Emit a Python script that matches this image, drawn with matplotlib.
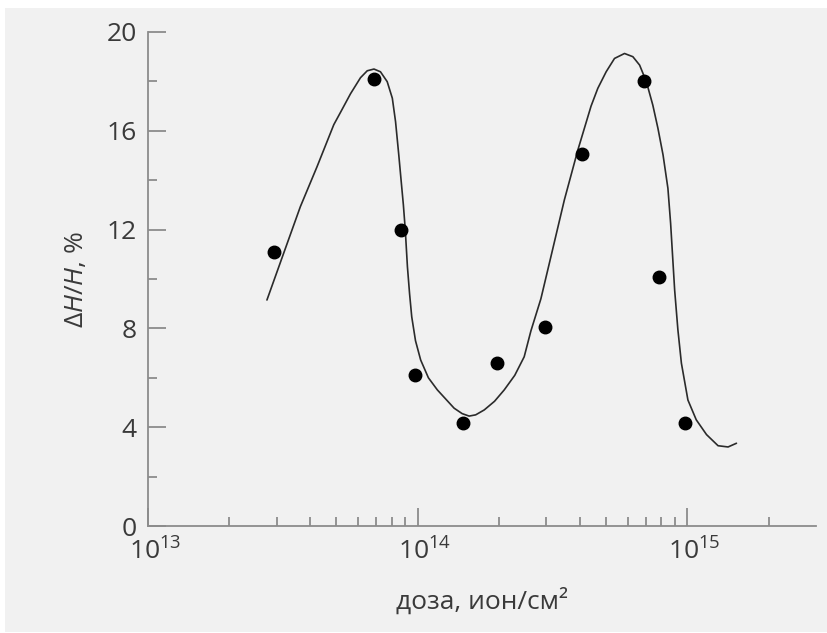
import numpy as np
import matplotlib.pyplot as plt
import matplotlib.transforms as mtransforms
from matplotlib.patches import Rectangle
from matplotlib.ticker import FixedLocator, NullFormatter

plt.rcParams['font.family'] = ['Open Sans', 'DejaVu Sans']
plt.rcParams['mathtext.fontset'] = 'custom'
plt.rcParams['mathtext.rm'] = 'Open Sans'
plt.rcParams['mathtext.it'] = 'Open Sans:italic'

# measured points
dose = [2.94e13, 6.9e13, 8.7e13, 9.8e13, 1.47e14, 1.97e14, 2.97e14, 4.06e14, 6.9e14, 7.85e14, 9.8e14]
dH = [11.1, 18.1, 12.0, 6.1, 4.15, 6.6, 8.05, 15.05, 18.0, 10.1, 4.15]

# hand-drawn curve
curve_dose = [2.761e13, 3.184e13, 3.673e13, 4.236e13, 4.887e13, 5.176e13, 5.636e13, 6.138e13,
              6.501e13, 6.887e13, 7.278e13, 7.709e13, 8.054e13, 8.279e13, 8.511e13, 8.690e13,
              8.851e13, 8.995e13, 9.162e13, 9.333e13, 9.506e13, 9.817e13, 1.026e14, 1.096e14,
              1.183e14, 1.365e14, 1.462e14, 1.552e14, 1.641e14, 1.766e14, 1.928e14, 2.094e14,
              2.291e14, 2.483e14, 2.630e14, 2.864e14, 3.119e14, 3.499e14, 3.926e14, 4.395e14,
              4.656e14, 5.000e14, 5.370e14, 5.848e14, 6.281e14, 6.653e14, 7.047e14, 7.447e14,
              7.780e14, 8.128e14, 8.472e14, 8.670e14, 8.974e14, 9.226e14, 9.506e14, 1.005e15,
              1.079e15, 1.178e15, 1.300e15, 1.416e15, 1.521e15]
curve_dH = [9.15, 11.04, 12.93, 14.55, 16.25, 16.75, 17.5, 18.15,
            18.43, 18.50, 18.39, 17.99, 17.32, 16.37, 15.02, 13.94,
            13.0, 12.0, 10.5, 9.4, 8.47, 7.5, 6.72, 6.0,
            5.51, 4.77, 4.55, 4.45, 4.5, 4.7, 5.05, 5.51,
            6.1, 6.85, 7.9, 9.2, 10.9, 13.2, 15.22, 17.0,
            17.72, 18.39, 18.93, 19.13, 19.0, 18.66, 17.99, 17.04,
            16.1, 15.02, 13.67, 12.25, 9.55, 7.94, 6.59, 5.1,
            4.3, 3.7, 3.25, 3.2, 3.35]

yticks = [0, 4, 8, 12, 16, 20]
xticks = [1e13, 1e14, 1e15]
xticklabels = ['$10^{13}$', '$10^{14}$', '$10^{15}$']

fig = plt.figure(figsize=(8.27, 6.33), dpi=100, facecolor='white')
fig.patches.append(Rectangle((5 / 827, 1 / 633), 1, 624 / 633, transform=fig.transFigure,
                             facecolor='#f1f1f1', edgecolor='none', zorder=-10))
ax = fig.add_axes([148 / 827, 1 - 526 / 633, (816 - 148) / 827, (526 - 32) / 633])
ax.set_facecolor('none')

ax.plot(curve_dose, curve_dH, color='#2b2b2b', linewidth=1.2,
        solid_joinstyle='round', solid_capstyle='round')
ax.plot(dose, dH, 'o', color='black', markersize=9)

ax.set_xscale('log')
ax.set_xlim(1e13, 3e15)
ax.set_ylim(0, 20)

for s in ['top', 'right']:
    ax.spines[s].set_visible(False)
for s in ['left', 'bottom']:
    ax.spines[s].set_color('#8c8c8c')
    ax.spines[s].set_linewidth(1.3)

ax.set_yticks(yticks)
ax.set_yticks([2, 6, 10, 14, 18], minor=True)
ax.set_xticks(xticks)
ax.set_xticklabels(xticklabels)
minor_x = [m * 10.0 ** e for e in (13, 14) for m in range(2, 10)] + [2e15]
ax.xaxis.set_minor_locator(FixedLocator(minor_x))
ax.xaxis.set_minor_formatter(NullFormatter())

ax.tick_params(which='major', direction='in', length=13, width=1.3, color='#8c8c8c',
               labelsize=19, labelcolor='#3a3a3a')
ax.tick_params(which='minor', direction='in', length=6.5, width=1.3, color='#8c8c8c')
ax.tick_params(axis='y', which='major', pad=8)
ax.tick_params(axis='x', which='major', pad=9)

# base "10" sits centred on the tick, exponent hangs to the right
shift = mtransforms.ScaledTranslation(0.07, 0, fig.dpi_scale_trans)
for lab in ax.get_xticklabels():
    lab.set_transform(lab.get_transform() + shift)

ax.set_xlabel('доза, ион/см²', fontsize=19, color='#3a3a3a', labelpad=16)
ax.set_ylabel(r'Δ$\mathit{H}$/$\mathit{H}$, %', fontsize=19, color='#3a3a3a', labelpad=13)

fig.savefig('out.png', dpi=100)
